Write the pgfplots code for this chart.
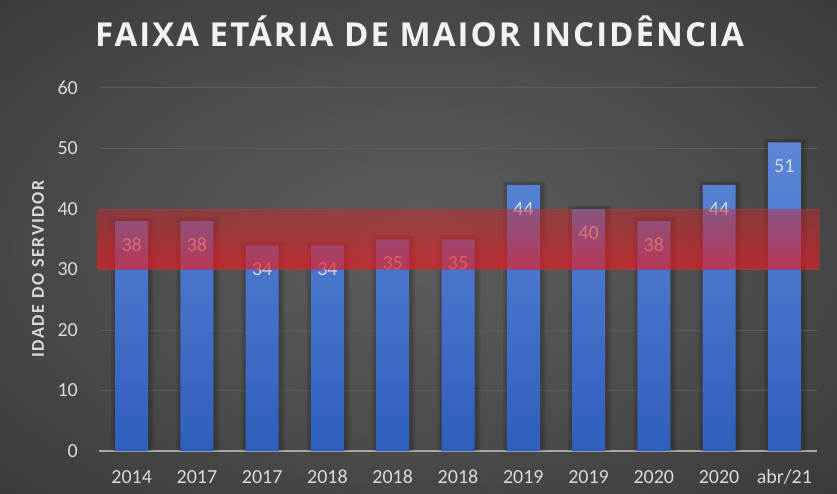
\documentclass[border=0pt]{standalone}
\usepackage{fontspec}
\setmainfont{Carlito}
\newfontfamily\titlefont[LetterSpace=6.2]{Open Sans}
\newfontfamily\ylabfont[LetterSpace=9]{Carlito}
\usepackage{pgfplots}
\pgfplotsset{compat=1.18}
\usetikzlibrary{fadings}
\definecolor{bgin}{HTML}{5E5E5E}
\definecolor{bgmid}{HTML}{4D4D4D}
\definecolor{bgout}{HTML}{2C2C2C}
\definecolor{bartop}{HTML}{5C87D7}
\definecolor{barbot}{HTML}{2F5EBC}
\definecolor{bandA}{HTML}{D02828}
\definecolor{bandB}{HTML}{F41824}
\definecolor{tickgray}{HTML}{D9D9D9}
\definecolor{titlecol}{HTML}{F2F2F2}
\definecolor{gridgray}{HTML}{5E5E5E}
\definecolor{axisgray}{HTML}{A6A6A6}
\pgfdeclareradialshading{bgshade}{\pgfpoint{0bp}{0bp}}{color(0bp)=(bgin); color(18bp)=(bgmid); color(50bp)=(bgout)}
\pgfplotsset{
  layers/mylayers/.define layer set={
    picbg, axis background, axis grid, axis ticks, axis lines, axis tick labels,
    pre main, main, axis descriptions, axis foreground
  }{},
}
\begin{document}
\begin{tikzpicture}
\begin{axis}[
  set layers=mylayers,
  at={(99pt,42pt)}, anchor=south west,
  scale only axis, width=718pt, height=363pt,
  xmin=-0.5, xmax=10.5, ymin=0, ymax=60,
  clip=false,
  /pgf/number format/assume math mode=true,
  xtick={0,...,10},
  xticklabels={2014,2017,2017,2018,2018,2018,2019,2019,2020,2020,abr/21},
  ytick={0,10,...,60},
  major tick length=0pt,
  axis x line*=bottom, axis y line*=left,
  y axis line style={draw=none},
  x axis line style={draw=axisgray, line width=2pt, -},
  ymajorgrids, grid style={draw=gridgray, line width=1pt},
  tick label style={font=\fontsize{20}{24}\selectfont, text=tickgray},
  x tick label style={anchor=north, inner sep=0pt, yshift=-19.5pt, text height=13pt, text depth=0pt},
  y tick label style={anchor=east, inner sep=0pt, xshift=-21pt},
]
\begin{pgfonlayer}{picbg}
\shade[shading=bgshade] ([shift={(-99pt,-42pt)}]rel axis cs:0,0) rectangle ([shift={(738pt,451pt)}]rel axis cs:0,0);
\end{pgfonlayer}
\addplot[ybar, bar width=43pt, bar shift=1pt, draw=none, fill=black, fill opacity=0.10, forget plot]
  coordinates {(0,38.6) (1,38.6) (2,34.6) (3,34.6) (4,35.6) (5,35.6) (6,44.6) (7,40.6) (8,38.6) (9,44.6) (10,51.6)};
\addplot[ybar, bar width=38pt, bar shift=1pt, draw=none, fill=black, fill opacity=0.12, forget plot]
  coordinates {(0,38.3) (1,38.3) (2,34.3) (3,34.3) (4,35.3) (5,35.3) (6,44.3) (7,40.3) (8,38.3) (9,44.3) (10,51.3)};
\addplot[ybar, bar width=33pt, bar shift=0pt, draw=none, top color=bartop, bottom color=barbot,
  nodes near coords,
  every node near coord/.append style={anchor=center, yshift=-24pt, font=\fontsize{20}{24}\selectfont, text=tickgray}]
  coordinates {(0,38) (1,38) (2,34) (3,34) (4,35) (5,35) (6,44) (7,40) (8,38) (9,44) (10,51)};
\addplot[on layer=axis foreground, draw=none, fill=bandA, fill opacity=0.45, forget plot]
  coordinates {(-0.53,30) (10.54,30) (10.54,40) (-0.53,40)} -- cycle;
\addplot[on layer=axis foreground, draw=none, fill=bandB, fill opacity=0.45, path fading=north, forget plot]
  coordinates {(-0.53,30) (10.54,30) (10.54,40) (-0.53,40)} -- cycle;
\end{axis}
\node[anchor=base, font=\titlefont\bfseries\fontsize{33}{38}\selectfont, text=titlecol] at (419.5pt,446.5pt) {FAIXA ETÁRIA DE MAIOR INCIDÊNCIA};
\node[rotate=90, anchor=center, font=\ylabfont\bfseries\fontsize{18}{20}\selectfont, text=tickgray] at (38pt,224pt) {IDADE DO SERVIDOR};
\pgfresetboundingbox
\useasboundingbox (0,0) rectangle (837pt,493pt);
\end{tikzpicture}
\end{document}
